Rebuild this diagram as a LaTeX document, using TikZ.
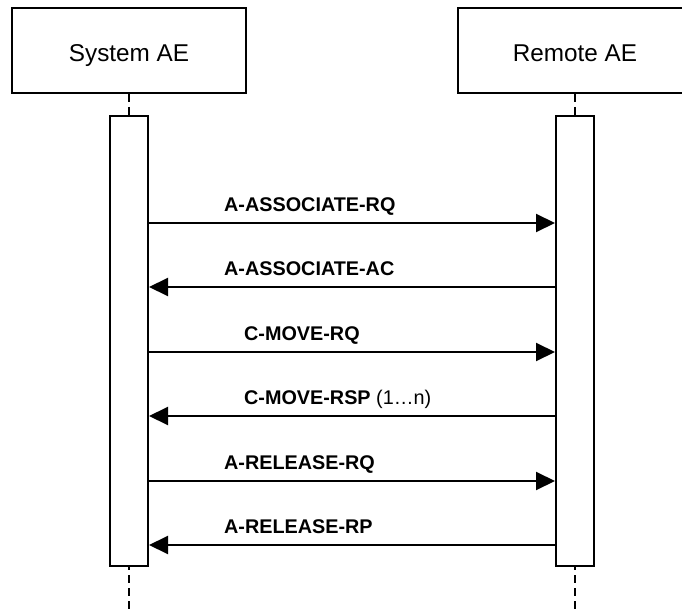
\documentclass[tikz,border=0pt]{standalone}
\usepackage{fontspec}
\setmainfont{Liberation Sans}
\usetikzlibrary{arrows.meta}
\begin{document}
\begin{tikzpicture}[x=1pt,y=-1pt,
  actor/.style={draw,line width=2pt,minimum width=234pt,minimum height=85pt,inner sep=0pt,text height=23pt,text depth=0pt,font=\fontsize{24.3}{28}\selectfont},
  actbox/.style={draw,line width=2pt,fill=white,minimum width=38pt,minimum height=450pt,inner sep=0pt},
  life/.style={line width=2pt,dash pattern=on 8pt off 5pt},
  msg/.style={line width=2pt,-{Triangle[length=19pt,width=18pt]}},
  lbl/.style={anchor=base west,inner sep=0pt,font=\fontsize{19.8}{22}\selectfont\bfseries}]
\useasboundingbox (0,0) rectangle (682,612);
\begin{scope}
\clip (0,0) rectangle (682,612);
\node[actor] (sys) at (129,50.5) {System AE};
\node[actor] (rem) at (575,50.5) {Remote AE};
\coordinate (sEnd) at (129,612);
\coordinate (rEnd) at (575,612);
\draw[life] (sys.south) -- (sEnd);
\draw[life] (rem.south) -- (rEnd);
\node[actbox] (as) at (129,341) {};
\node[actbox] (ar) at (575,341) {};
\draw[msg] (as.east |- 0,223) -- (ar.west |- 0,223);
\draw[msg] (ar.west |- 0,287) -- (as.east |- 0,287);
\draw[msg] (as.east |- 0,352) -- (ar.west |- 0,352);
\draw[msg] (ar.west |- 0,416) -- (as.east |- 0,416);
\draw[msg] (as.east |- 0,481) -- (ar.west |- 0,481);
\draw[msg] (ar.west |- 0,545) -- (as.east |- 0,545);
\node[lbl] (l1) at (224,211.5) {A-ASSOCIATE-RQ};
\node[lbl] (l2) at (224,275.5) {A-ASSOCIATE-AC};
\node[lbl] (l3) at (244,340.5) {C-MOVE-RQ};
\node[lbl] (l4) at (244,404.5) {C-MOVE-RSP {\mdseries (1…n)}};
\node[lbl] (l5) at (224,469.5) {A-RELEASE-RQ};
\node[lbl] (l6) at (224,533.5) {A-RELEASE-RP};
\end{scope}
\end{tikzpicture}
\end{document}
